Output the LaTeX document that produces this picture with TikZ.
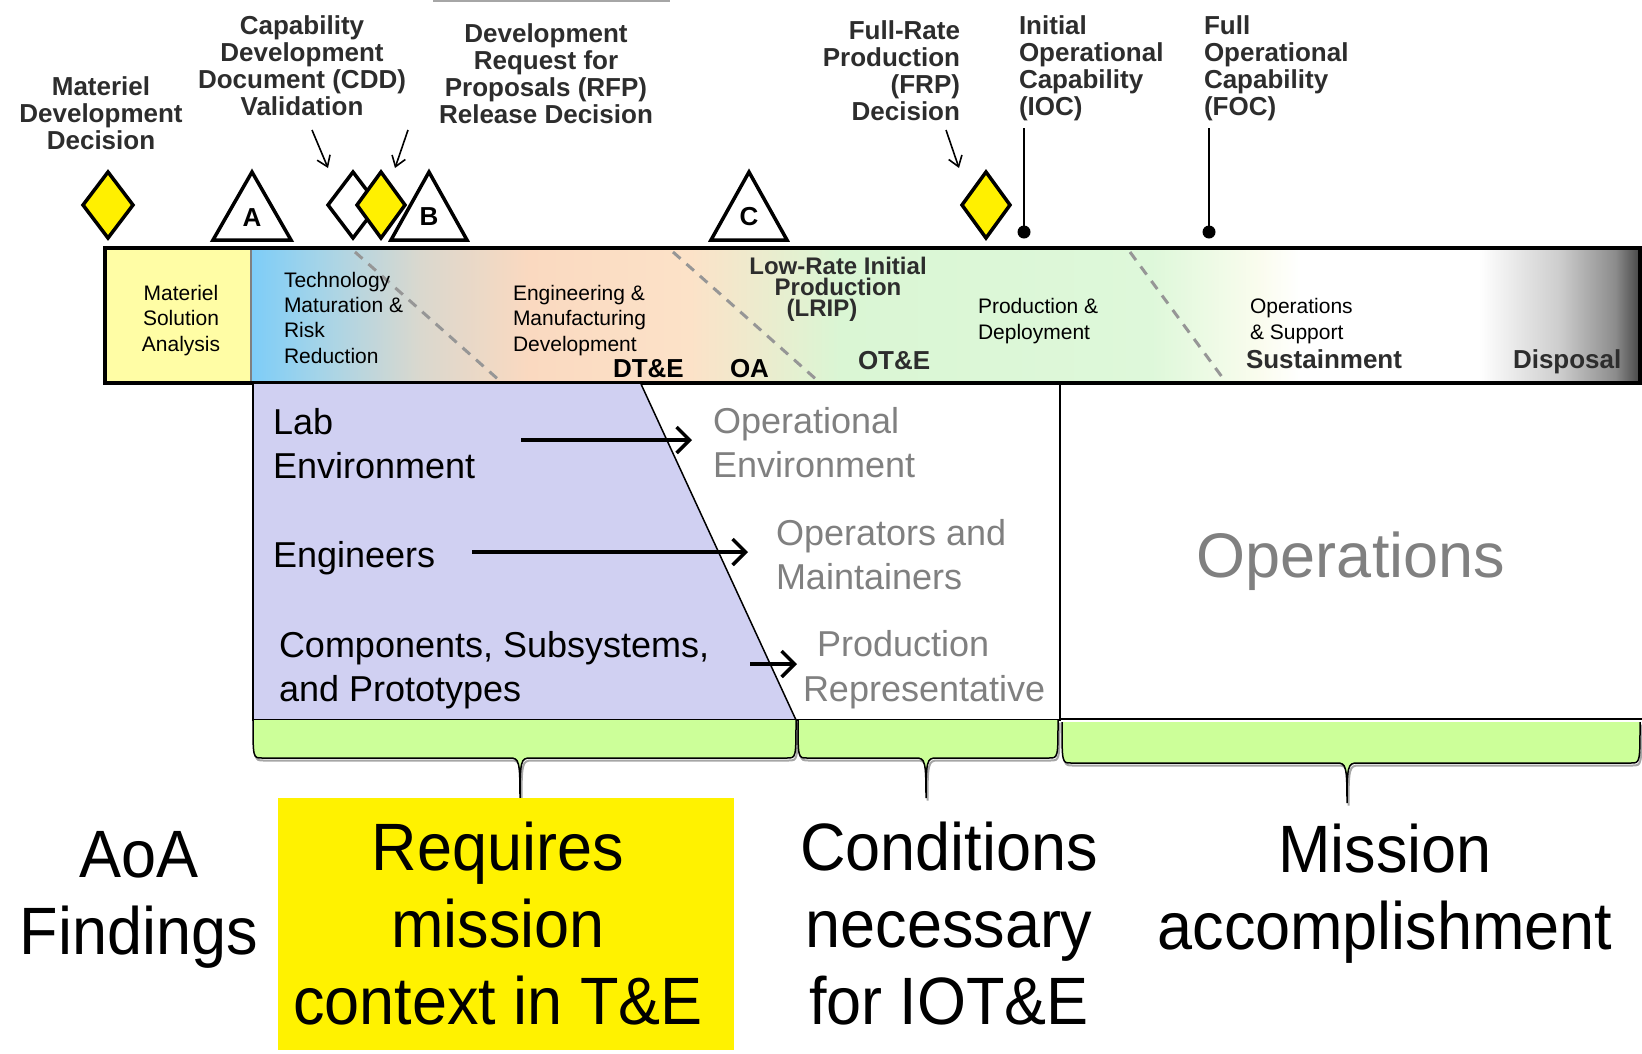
\documentclass[tikz,border=0pt]{standalone}
\usepackage{fontspec}
\setmainfont{Liberation Sans}
\newfontfamily\condsans[FakeStretch=0.94]{Liberation Sans}
\usetikzlibrary{arrows.meta}

\newcommand\fsz[2]{\fontsize{#1}{#2}\selectfont}

% phase colours along the life-cycle bar
\definecolor{msayellow}{RGB}{255,253,165}
\definecolor{tmblue}{RGB}{125,205,248}
\definecolor{tmbluemid}{RGB}{165,212,232}
\definecolor{tmgray}{RGB}{218,216,206}
\definecolor{emdpeach}{RGB}{250,217,192}
\definecolor{emdpeachlate}{RGB}{252,226,200}
\definecolor{pdgreen}{RGB}{218,246,212}
\definecolor{pdgreenlate}{RGB}{222,248,218}
\definecolor{opwhite}{RGB}{250,252,238}
\definecolor{dispa}{RGB}{205,205,205}
\definecolor{dispb}{RGB}{140,140,140}
\definecolor{dispc}{RGB}{70,70,70}
% other colours
\definecolor{lav}{RGB}{208,208,242}
\definecolor{bracegreen}{RGB}{204,255,153}
\definecolor{labelgray}{RGB}{45,45,45}
\definecolor{softgray}{RGB}{128,128,128}
\definecolor{dashgray}{RGB}{150,150,150}
\definecolor{markyellow}{RGB}{255,240,0}

\pgfdeclarehorizontalshading{lifecycle}{100bp}{%
  color(0bp)=(tmblue); color(25bp)=(tmblue); color(27.5bp)=(tmbluemid);
  color(31.1bp)=(tmgray); color(35bp)=(emdpeach); color(40.8bp)=(emdpeachlate);
  color(46.2bp)=(pdgreen); color(57.4bp)=(pdgreenlate); color(61.3bp)=(opwhite);
  color(62.8bp)=(white); color(69.2bp)=(white); color(72.1bp)=(dispa);
  color(74.1bp)=(dispb); color(75bp)=(dispc); color(100bp)=(dispc)}

\tikzset{
  txt/.style={inner sep=0pt, outer sep=0pt},
  milestone/.style={txt, font=\bfseries\fsz{26}{27}, text=labelgray},
  phasetext/.style={txt, font=\fsz{21}{25.3}, align=left},
  phasebold/.style={txt, font=\bfseries\fsz{26}{26}},
  paneltext/.style={txt, font=\fsz{36}{44}, align=left},
  bigtext/.style={txt, font=\condsans\fsz{67}{77}, align=center},
  markletter/.style={txt, font=\bfseries\fsz{26}{26}},
  diamondmark/.style={line width=3.5pt, line join=miter},
  trianglemark/.style={line width=3.5pt, fill=white, line join=miter},
  callout/.style={line width=1.6pt, -{Straight Barb[length=10pt,width=14pt]}},
  shiftarrow/.style={line width=3.5pt, -{Straight Barb[length=13pt,width=26pt]}},
  phasedash/.style={dashgray, line width=3pt, dash pattern=on 10pt off 8pt},
  braceline/.style={draw=black, line width=1.5pt},
  braceshadow/.style={draw=gray!70, line width=2pt},
}

% green brace hanging below a span: left x, right x, top y, bottom y, tip x, tip y
\newcommand\greenbrace[6]{%
  \draw[braceshadow, shift={(1.5,2.5)}] (#1,#3) .. controls (#1,#4) and (#1,#4) .. (#1+9,#4) -- (#5-10,#4) .. controls (#5-1,#4) and (#5,#4+3) .. (#5,#6) .. controls (#5,#4+3) and (#5+1,#4) .. (#5+10,#4) -- (#2-9,#4) .. controls (#2,#4) and (#2,#4) .. (#2,#3);
  \fill[bracegreen] (#1,#3) .. controls (#1,#4) and (#1,#4) .. (#1+9,#4) -- (#5-10,#4) .. controls (#5-1,#4) and (#5,#4+3) .. (#5,#6) .. controls (#5,#4+3) and (#5+1,#4) .. (#5+10,#4) -- (#2-9,#4) .. controls (#2,#4) and (#2,#4) .. (#2,#3) -- cycle;
  \draw[braceline] (#1,#3) .. controls (#1,#4) and (#1,#4) .. (#1+9,#4) -- (#5-10,#4) .. controls (#5-1,#4) and (#5,#4+3) .. (#5,#6) .. controls (#5,#4+3) and (#5+1,#4) .. (#5+10,#4) -- (#2-9,#4) .. controls (#2,#4) and (#2,#4) .. (#2,#3);
}

\begin{document}
\begin{tikzpicture}[x=1pt, y=-1pt]
\useasboundingbox (0,0) rectangle (1642,1053);
\clip (0,0) rectangle (1642,1053);

% thin rule at the top edge
\draw[gray!70, line width=1.5pt] (433,1) -- (670,1);

% ---------- milestone labels (anchored at the last line's baseline) ----------
\node[milestone, align=center, anchor=base] (mdd) at (101,149) {Materiel\\Development\\Decision};
\node[milestone, align=center, anchor=base] (cdd) at (302,115) {Capability\\Development\\Document (CDD)\\Validation};
\node[milestone, align=center, anchor=base] (rfp) at (546,123) {Development\\Request for\\Proposals (RFP)\\Release Decision};
\node[milestone, align=right, anchor=base east] (frp) at (960,120) {Full-Rate\\Production\\(FRP)\\Decision};
\node[milestone, align=left, anchor=base west] (ioc) at (1019,115) {Initial\\Operational\\Capability\\(IOC)};
\node[milestone, align=left, anchor=base west] (foc) at (1204,115) {Full\\Operational\\Capability\\(FOC)};

% ---------- milestone markers ----------
\draw[diamondmark, fill=markyellow] (108,172) -- (133,205) -- (108,238) -- (83,205) -- cycle;
\draw[trianglemark] (252,172) -- (291,240) -- (213,240) -- cycle;
\node[markletter] (mka) at (252,218) {A};
\draw[diamondmark, fill=white] (353,172) -- (378,205) -- (353,238) -- (328,205) -- cycle;
\draw[diamondmark, fill=markyellow] (381,172) -- (405,205) -- (381,238) -- (357,205) -- cycle;
\draw[trianglemark] (429,172) -- (467,240) -- (391,240) -- cycle;
\node[markletter] (mkb) at (429,217) {B};
\draw[trianglemark] (749,172) -- (787,240) -- (711,240) -- cycle;
\node[markletter] (mkc) at (749,217) {C};
\draw[diamondmark, fill=markyellow] (986,172) -- (1010,205) -- (986,238) -- (962,205) -- cycle;

% pointers from labels to markers
\coordinate (cddtail) at (312,130);
\coordinate (cddhead) at (328,168);
\coordinate (rfptail) at (408,130);
\coordinate (rfphead) at (395,168);
\coordinate (frptail) at (946,130);
\coordinate (frphead) at (959,168);
\draw[callout] (cddtail) -- (cddhead);
\draw[callout] (rfptail) -- (rfphead);
\draw[callout] (frptail) -- (frphead);

\coordinate (ioctop) at (1024,128);
\coordinate (iocdot) at (1024,232);
\coordinate (foctop) at (1209,128);
\coordinate (focdot) at (1209,232);
\draw[line width=2pt] (ioctop) -- (iocdot);
\fill (iocdot) circle (6.5);
\draw[line width=2pt] (foctop) -- (focdot);
\fill (focdot) circle (6.5);

% ---------- life-cycle bar ----------
\fill[msayellow] (105,248) rectangle (251,383);
\shade[shading=lifecycle] (251,248) rectangle (1640,383);
\draw[gray, line width=1.5pt] (251,250) -- (251,381);
\draw[phasedash] (355,252) -- (500,381);
\draw[phasedash] (673,252) -- (818,381);
\draw[phasedash] (1130,252) -- (1225,381);
\draw[line width=3.5pt] (105,248) rectangle (1640,383);

\node[phasetext, align=center, anchor=base] (msa) at (181,351) {Materiel\\Solution\\Analysis};
\node[phasetext, anchor=base west] (tmrr) at (284,363) {Technology\\Maturation \&\\Risk\\Reduction};
\node[phasetext, anchor=base west] (emd) at (513,351) {Engineering \&\\Manufacturing\\Development};
\node[txt, font=\bfseries\fsz{24}{21}, text=labelgray, align=center, anchor=base] (lrip) at (838,316) {Low-Rate Initial\\Production\\(LRIP)\hspace*{32pt}};
\node[phasetext, anchor=base west] (pd) at (978,339) {Production \&\\Deployment};
\node[phasetext, anchor=base west] (os) at (1250,339) {Operations\\\& Support};
\node[phasebold, anchor=base west] (dte) at (613,377) {DT\&E};
\node[phasebold, anchor=base west] (oa) at (730,377) {OA};
\node[phasebold, text=labelgray, anchor=base west] (ote) at (858,369) {OT\&E};
\node[phasebold, text=labelgray, anchor=base west] (sus) at (1246,368) {Sustainment};
\node[phasebold, text=labelgray, anchor=base west] (disp) at (1513,368) {Disposal};

% ---------- test environment panel ----------
\fill[lav] (253,384) -- (641,384) -- (796,720) -- (253,720) -- cycle;
\draw[line width=1.5pt] (641,384) -- (796,720);
\draw[line width=1.5pt] (253,384) -- (253,720) -- (1060,720) -- (1060,384);
\draw[line width=2.5pt] (1060,719) -- (1650,719);

\node[paneltext, anchor=base west] (lab) at (273,478) {Lab\\Environment};
\node[paneltext, text=softgray, anchor=base west] (openv) at (713,477) {Operational\\Environment};
\node[paneltext, anchor=base west] (eng) at (273,567) {Engineers};
\node[paneltext, text=softgray, anchor=base west] (opm) at (776,589) {Operators and\\Maintainers};
\node[paneltext, anchor=base west] (comp) at (279,701) {Components, Subsystems,\\and Prototypes};
\node[paneltext, text=softgray, anchor=base west] (prodrep) at (817,656) {Production};
\node[paneltext, text=softgray, anchor=base west] (reprep) at (803,701) {Representative};
\node[txt, font=\fsz{63}{70}, text=softgray, anchor=base] (ops) at (1351,577) {Operations};

\coordinate (labtail) at (521,440);
\coordinate (labhead) at (692,440);
\coordinate (engtail) at (472,552);
\coordinate (enghead) at (748,552);
\coordinate (comptail) at (750,664);
\coordinate (comphead) at (797,664);
\draw[shiftarrow] (labtail) -- (labhead);
\draw[shiftarrow] (engtail) -- (enghead);
\draw[shiftarrow] (comptail) -- (comphead);

% ---------- braces ----------
\greenbrace{253}{796}{720}{758}{520}{798}
\greenbrace{798}{1058}{720}{758}{926}{798}
\greenbrace{1062}{1640}{722}{763}{1347}{803}

% ---------- conclusions ----------
\fill[yellow] (278,798) rectangle (734,1050);
\node[bigtext, anchor=base] (aoa) at (139,954) {AoA\\Findings};
\node[bigtext, anchor=base] (req) at (498,1024) {Requires\\mission\\context in T\&E};
\node[bigtext, anchor=base] (cond) at (949,1024) {Conditions\\necessary\\for IOT\&E};
\node[bigtext, anchor=base] (miss) at (1385,949) {Mission\\accomplishment};
\end{tikzpicture}
\end{document}
